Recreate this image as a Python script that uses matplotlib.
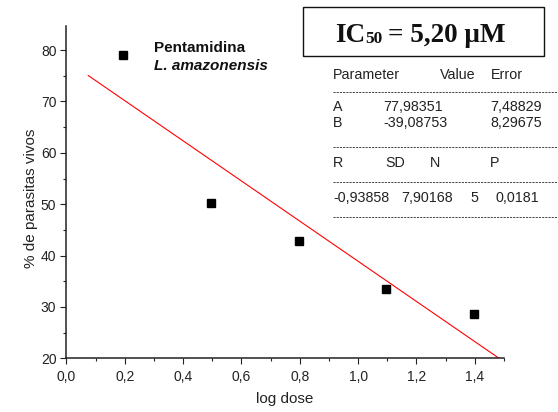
import matplotlib
matplotlib.use("Agg")
import matplotlib.pyplot as plt
from matplotlib.patches import Rectangle
from matplotlib.lines import Line2D
from matplotlib.ticker import MultipleLocator, FuncFormatter

plt.rcParams['font.family'] = ['Liberation Sans', 'DejaVu Sans']

# Dose-response data (log of dose in µM vs. % surviving parasites)
log_dose = [0.1938, 0.4949, 0.7959, 1.0969, 1.3979]
pct_alive = [78.97, 50.26, 42.90, 33.50, 28.55]

# Linear fit results
fit_A = 77.98351
fit_B = -39.08753
fit_x_range = [0.075, 1.5]

param_header = ["Parameter", "Value", "Error"]
param_rows = [["A", "77,98351", "7,48829"],
              ["B", "-39,08753", "8,29675"]]
stat_header = ["R", "SD", "N", "P"]
stat_values = ["-0,93858", "7,90168", "5", "0,0181"]

W, H = 558, 412
fig = plt.figure(figsize=(W / 100, H / 100), dpi=100)

def fx(px):
    return px / W

def fy(py):
    return 1 - py / H

ax = fig.add_axes([fx(66.4), fy(358.3), fx(503.9) - fx(66.4), fy(26) - fy(358.3)])

ax.plot(log_dose, pct_alive, linestyle='none', marker='s', markersize=5.3,
        color='black', zorder=3)
fit_y = [fit_A + fit_B * x for x in fit_x_range]
ax.plot(fit_x_range, fit_y, color='red', linewidth=0.8, zorder=2)

ax.set_xlim(0, 1.5)
ax.set_ylim(20, 84.7)
ax.xaxis.set_major_locator(MultipleLocator(0.2))
ax.xaxis.set_minor_locator(MultipleLocator(0.1))
ax.yaxis.set_major_locator(MultipleLocator(10))
ax.yaxis.set_minor_locator(MultipleLocator(5))
ax.xaxis.set_major_formatter(FuncFormatter(lambda v, p: f"{v:.1f}".replace('.', ',')))
ax.yaxis.set_major_formatter(FuncFormatter(lambda v, p: f"{v:.0f}"))

for side in ('top', 'right'):
    ax.spines[side].set_visible(False)
for side in ('left', 'bottom'):
    ax.spines[side].set_linewidth(1.1)
    ax.spines[side].set_color('#222222')

ax.tick_params(which='major', direction='out', length=4.2, width=0.8,
               color='#222222', labelsize=10, labelcolor='#222222')
ax.tick_params(which='minor', direction='out', length=2.4, width=0.8, color='#222222')
ax.tick_params(axis='x', which='major', pad=4)
ax.tick_params(axis='y', which='major', pad=3)

ax.set_xlabel("log dose", fontsize=11, color='#222222')
ax.set_ylabel("% de parasitas vivos", fontsize=11, color='#222222')
ax.xaxis.set_label_coords(0.5, -0.102)
ax.yaxis.set_label_coords(-0.065, 0.482)

# Compound / species annotation
fig.text(fx(154), fy(52), "Pentamidina", fontsize=11, fontweight='bold',
         va='baseline', ha='left', color='#111111')
fig.text(fx(154), fy(70.5), "L. amazonensis", fontsize=11, fontweight='bold',
         fontstyle='italic', va='baseline', ha='left', color='#111111')

# IC50 box, text laid out piece by piece so the subscript sits close to the baseline
fig.patches.append(Rectangle((fx(303.3), fy(56)), fx(544.3) - fx(303.3), fy(7.3) - fy(56),
                             transform=fig.transFigure, fill=False,
                             edgecolor='#111111', linewidth=1.0))
serif = dict(family='Liberation Serif', fontweight='bold', va='baseline',
             ha='left', color='#111111')
renderer = fig.canvas.get_renderer()
pieces = [("IC", 19.5, 0.0, 0.0),
          ("50", 12.5, 1.5, 0.5),
          ("= 5,20 μM", 19.5, 0.0, 5.0)]
x_cursor = 335.0
for txt, size, drop, gap in pieces:
    x_cursor += gap
    t = fig.text(fx(x_cursor), fy(41.7 + drop), txt, fontsize=size, **serif)
    x_cursor += t.get_window_extent(renderer).width

# Fit parameter table
tcol = '#222222'
tsize = 10.3
for label, x in zip(param_header, [333.3, 440, 490.7]):
    fig.text(fx(x), fy(79), label, fontsize=tsize, va='baseline', color=tcol)
for row, yb in zip(param_rows, [111, 127.5]):
    for val, x in zip(row, [333.3, 383.3, 490.7]):
        fig.text(fx(x), fy(yb), val, fontsize=tsize, va='baseline', color=tcol)
for label, x in zip(stat_header, [333.3, 385, 430, 490]):
    fig.text(fx(x), fy(167), label, fontsize=tsize, va='baseline', color=tcol)
for val, x in zip(stat_values, [333.3, 401.7, 470, 495]):
    fig.text(fx(x), fy(202), val, fontsize=tsize, va='baseline', color=tcol)

for yd in [92.3, 146.7, 181.5, 216.5]:
    fig.lines.append(Line2D([fx(333), fx(558)], [fy(yd), fy(yd)],
                            transform=fig.transFigure, color='#444444',
                            linewidth=0.7, linestyle=(0, (2.2, 1.1))))

fig.savefig("out.png", dpi=100)
